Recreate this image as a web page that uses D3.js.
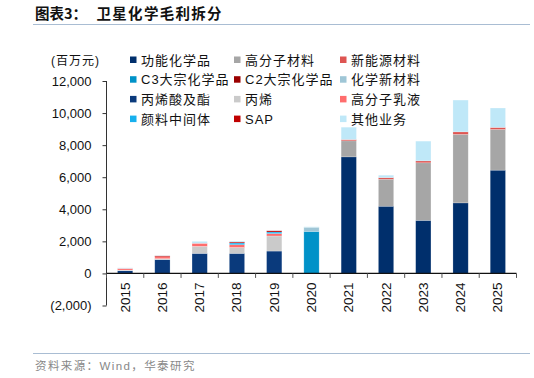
<!DOCTYPE html>
<html>
<head>
<meta charset="utf-8">
<script src="https://cdnjs.cloudflare.com/ajax/libs/d3/7.8.5/d3.min.js"></script>
<style>
  body { margin: 0; background: #fff; }
  svg { display: block; font-family: "Liberation Sans", Arial, "Noto Sans CJK SC", sans-serif; }
</style>
</head>
<body>
<div id="content"></div>
<script>
const years = ['2015','2016','2017','2018','2019','2020','2021','2022','2023','2024','2025'];

// one array per segment, same order as the legend
const gongneng  = [0, 0, 0, 0, 0, 0, 7270, 4190, 3310, 4400, 6440];
const gaofenzi  = [0, 0, 0, 0, 0, 0, 1000, 1685, 3590, 4270, 2540];
const xinnengy  = [0, 0, 0, 0, 0, 0, 80, 100, 120, 160, 125];
const c3        = [0, 0, 0, 0, 0, 2620, 0, 0, 0, 0, 0];
const c2        = [0, 0, 0, 0, 0, 0, 0, 0, 0, 0, 0];
const xincailiao= [0, 0, 0, 0, 0, 260, 0, 0, 0, 0, 0];
const bingxisuan= [170, 860, 1250, 1250, 1395, 0, 0, 0, 0, 0, 0];
const bingxi    = [40, 60, 440, 370, 940, 0, 0, 0, 0, 0, 0];
const rujiao    = [100, 120, 190, 170, 150, 0, 0, 0, 0, 0, 0];
const yanliao   = [0, 0, 0, 110, 100, 0, 0, 0, 0, 0, 0];
const sap       = [0, 60, 0, 60, 80, 0, 0, 0, 0, 0, 0];
const qita      = [40, 20, 120, 60, 20, 30, 770, 150, 1230, 1980, 1210];

const names = ['功能化学品','高分子材料','新能源材料','C3大宗化学品','C2大宗化学品','化学新材料',
               '丙烯酸及酯','丙烯','高分子乳液','颜料中间体','SAP','其他业务'];
const colors = ['#002f6c','#a6a6a6','#de5552','#0092c8','#9a0000','#9fc6d6',
                '#0a3a7c','#cacaca','#ff6d6d','#17b0ee','#c00000','#bfe8f8'];
const yTicks = [-2000, 0, 2000, 4000, 6000, 8000, 10000, 12000];

const series = [gongneng, gaofenzi, xinnengy, c3, c2, xincailiao, bingxisuan, bingxi, rujiao, yanliao, sap, qita];

const width = 534, height = 378;

const table = years.map((y, i) => {
    const row = { year: y };
    names.forEach((n, k) => { row[n] = series[k][i]; });
    return row;
});

const svg = d3.select('#content')
              .append('svg')
              .attr('width', width)
              .attr('height', height);

// title
svg.append('text')
   .attr('x', 35).attr('y', 19)
   .attr('font-size', 14.5).attr('font-weight', 'bold')
   .attr('fill', '#111')
   .style('font-family', '"Noto Sans CJK SC", sans-serif')
   .text('图表3：');
svg.append('text')
   .attr('x', 96.5).attr('y', 19)
   .attr('font-size', 14.5).attr('font-weight', 'bold')
   .attr('letter-spacing', 1.3)
   .attr('fill', '#111')
   .style('font-family', '"Noto Sans CJK SC", sans-serif')
   .text('卫星化学毛利拆分');
svg.append('line')
   .attr('x1', 33).attr('x2', 530).attr('y1', 24.5).attr('y2', 24.5)
   .attr('stroke', '#a9bdd3').attr('stroke-width', 1);

const x = d3.scaleBand().domain(years).range([106.5, 516.5]);
const y = d3.scaleLinear().domain([-2000, 12000]).range([305.5, 81]);
const barW = x.bandwidth() * 0.41;

const stack = d3.stack().keys(names)(table);

svg.append('g')
   .selectAll('g')
   .data(stack)
   .enter()
   .append('g')
   .attr('fill', (d, i) => colors[i])
   .selectAll('rect')
   .data(d => d)
   .enter()
   .append('rect')
   .attr('x', d => x(d.data.year) + (x.bandwidth() - barW) / 2)
   .attr('y', d => y(d[1]))
   .attr('width', barW)
   .attr('height', d => Math.max(0, y(d[0]) - y(d[1])))
   .attr('stroke', 'rgba(255,255,255,0.35)')
   .attr('stroke-width', 0.6);

// y axis
const yAxis = d3.axisLeft(y)
                .tickValues(yTicks)
                .tickSize(4)
                .tickPadding(11)
                .tickFormat(v => v < 0 ? '(' + d3.format(',')(-v) + ')' : d3.format(',')(v));
const gy = svg.append('g').attr('transform', 'translate(106.5,0)').call(yAxis);
gy.select('.domain').attr('stroke', '#333').attr('d', 'M0,' + y(12000) + 'V' + y(-2000));
gy.selectAll('.tick line').attr('stroke', '#333');
gy.selectAll('.tick text').attr('font-size', 13).attr('fill', '#111')
  .style('font-family', '"Liberation Sans", Arial, sans-serif');

// x axis at zero
const gx = svg.append('g').attr('transform', 'translate(0,' + y(0) + ')');
gx.append('line')
  .attr('x1', 106.5).attr('x2', 516.5)
  .attr('stroke', '#111').attr('stroke-width', 1.2);
gx.selectAll('.xtick')
  .data(years.map(v => x(v)).concat([x.range()[1]]))
  .enter()
  .append('line')
  .attr('x1', d => d).attr('x2', d => d)
  .attr('y1', 0).attr('y2', 4.5)
  .attr('stroke', '#555');
gx.selectAll('.xlabel')
  .data(years)
  .enter()
  .append('text')
  .attr('transform', d => 'translate(' + (x(d) + x.bandwidth() / 2 + 4.5) + ',' + 9 + ') rotate(-90)')
  .attr('text-anchor', 'end')
  .attr('font-size', 13.5).attr('fill', '#111')
  .style('font-family', '"Liberation Sans", Arial, sans-serif')
  .text(d => d);

// unit label
svg.append('text')
   .attr('x', 75.5).attr('y', 65)
   .attr('text-anchor', 'middle')
   .attr('font-size', 12).attr('fill', '#111')
   .attr('letter-spacing', 1)
   .text('(百万元)');

// legend 3 x 4
const legend = svg.append('g').attr('class', 'legend');
const colX = [130, 234, 340];
names.forEach((n, i) => {
    const cx = colX[i % 3];
    const cy = 60 + Math.floor(i / 3) * 19.7;
    legend.append('rect')
          .attr('x', cx).attr('y', cy - 3.5)
          .attr('width', 6.5).attr('height', 6.5)
          .attr('fill', colors[i]);
    legend.append('text')
          .attr('x', cx + 11).attr('y', cy + 4.5)
          .attr('font-size', 13).attr('fill', '#111')
          .attr('letter-spacing', 1)
          .text(n);
});

// footer
svg.append('line')
   .attr('x1', 33).attr('x2', 530).attr('y1', 353.5).attr('y2', 353.5)
   .attr('stroke', '#a9bdd3').attr('stroke-width', 1);
svg.append('text')
   .attr('x', 35).attr('y', 370)
   .attr('font-size', 11.5).attr('fill', '#888')
   .attr('letter-spacing', 1.4)
   .text('资料来源：Wind，华泰研究');
</script>
</body>
</html>
